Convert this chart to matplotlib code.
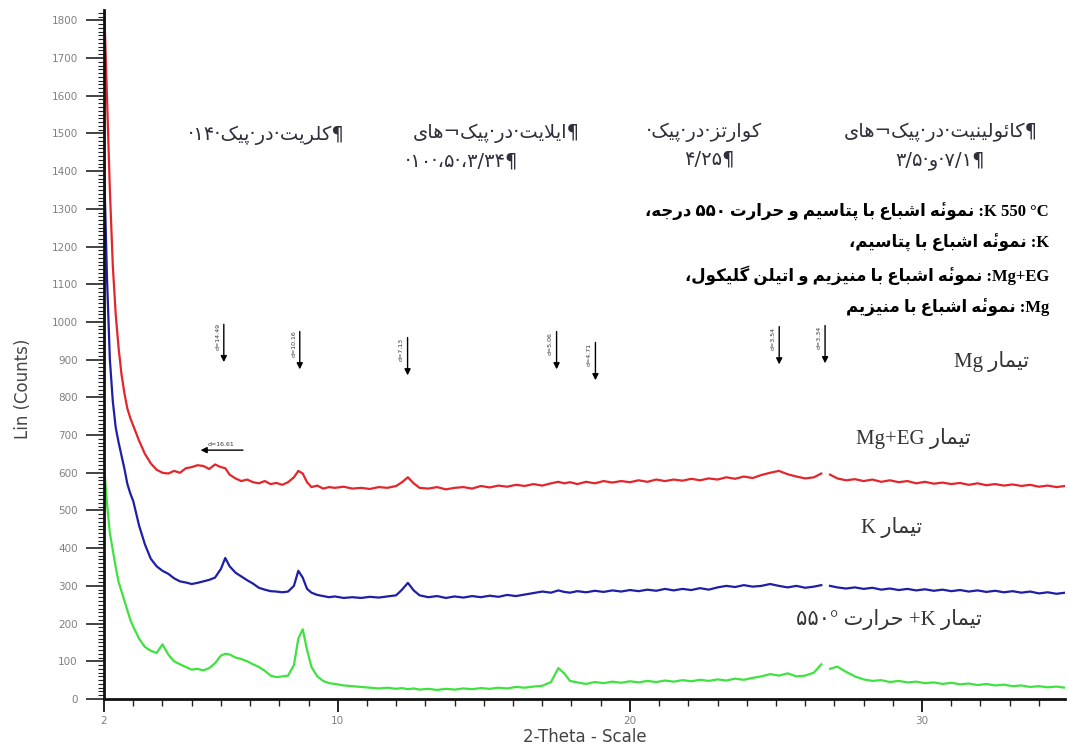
import numpy as np
import matplotlib
matplotlib.use('Agg')
import matplotlib.pyplot as plt
from matplotlib.ticker import MultipleLocator, FixedLocator

nan = np.nan

# 2-theta sampling positions (degrees)
two_theta = [2.0, 2.1, 2.2, 2.3, 2.4, 2.5, 2.6, 2.7, 2.8, 2.9,
             3.0, 3.2, 3.4, 3.6, 3.8, 4.0, 4.2, 4.4, 4.6, 4.8,
             5.0, 5.2, 5.4, 5.6, 5.8, 6.0, 6.15, 6.3, 6.5, 6.7,
             6.9, 7.1, 7.3, 7.5, 7.7, 7.9, 8.1, 8.3, 8.5, 8.65,
             8.8, 8.95, 9.1, 9.3, 9.5, 9.7, 9.9, 10.2, 10.5, 10.8,
             11.1, 11.4, 11.7, 12.0, 12.2, 12.4, 12.6, 12.8, 13.1, 13.4,
             13.7, 14.0, 14.3, 14.6, 14.9, 15.2, 15.5, 15.8, 16.1, 16.4,
             16.7, 17.0, 17.3, 17.55, 17.75, 17.95, 18.2, 18.5, 18.8, 19.1,
             19.4, 19.7, 20.0, 20.3, 20.6, 20.9, 21.2, 21.5, 21.8, 22.1,
             22.4, 22.7, 23.0, 23.3, 23.6, 23.9, 24.2, 24.5, 24.8, 25.1,
             25.4, 25.7, 26.0, 26.3, 26.55, 26.7, 26.85, 27.1, 27.4, 27.7,
             28.0, 28.3, 28.6, 28.9, 29.2, 29.5, 29.8, 30.1, 30.4, 30.7,
             31.0, 31.3, 31.6, 31.9, 32.2, 32.5, 32.8, 33.1, 33.4, 33.7,
             34.0, 34.3, 34.6, 34.9]

# counts, Mg + ethylene glycol (red)
mg_eg = [1850, 1600, 1350, 1150, 1020, 930, 860, 810, 770, 745,
         725, 685, 650, 625, 608, 600, 598, 605, 600, 612,
         615, 620, 618, 610, 622, 615, 612, 595, 585, 578,
         582, 575, 572, 578, 570, 573, 568, 575, 588, 605,
         598, 575, 562, 566, 558, 562, 560, 563, 558, 560,
         557, 562, 560, 565, 575, 588, 572, 560, 558, 562,
         556, 560, 562, 558, 565, 561, 566, 563, 568, 565,
         570, 566, 572, 576, 572, 575, 570, 576, 572, 578,
         574, 578, 575, 580, 576, 582, 578, 582, 579, 584,
         580, 585, 582, 588, 584, 590, 586, 594, 600, 605,
         596, 590, 585, 588, 598, nan, 595, 585, 580, 583,
         578, 582, 576, 580, 575, 578, 572, 576, 571, 574,
         570, 573, 568, 572, 567, 570, 566, 569, 565, 568,
         563, 566, 562, 565]

# counts, K saturated (blue)
k_sat = [1420, 1120, 900, 790, 720, 680, 645, 610, 570, 545,
         525, 460, 410, 372, 352, 340, 332, 320, 312, 309,
         305, 308, 312, 316, 322, 345, 374, 352, 335, 325,
         315, 306, 295, 290, 286, 285, 283, 285, 300, 340,
         322, 292, 282, 276, 273, 270, 272, 268, 270, 268,
         271, 269, 272, 275, 290, 308, 288, 275, 270, 273,
         268, 272, 269, 273, 270, 274, 271, 276, 273, 277,
         281, 285, 282, 288, 284, 282, 286, 283, 287, 284,
         288, 285, 289, 286, 290, 287, 292, 288, 292, 289,
         294, 290, 296, 300, 297, 302, 298, 300, 305, 300,
         296, 300, 295, 298, 302, nan, 300, 296, 293, 296,
         292, 295, 290, 293, 289, 292, 288, 291, 287, 290,
         286, 289, 285, 288, 284, 287, 283, 286, 282, 285,
         280, 283, 279, 282]

# counts, K saturated + 550 C (green)
k_550 = [620, 520, 440, 395, 350, 310, 285, 260, 235, 210,
         192, 160, 138, 128, 122, 145, 118, 100, 92, 85,
         78, 80, 76, 82, 95, 115, 120, 118, 110, 106,
         100, 92, 85, 75, 62, 58, 60, 62, 90, 160,
         185, 130, 85, 60, 48, 42, 40, 36, 34, 32,
         30, 28, 30, 27, 29, 26, 28, 25, 27, 24,
         27, 25, 28, 26, 29, 27, 30, 28, 32, 30,
         33, 35, 45, 82, 68, 48, 44, 40, 45, 42,
         46, 43, 47, 44, 48, 45, 49, 46, 50, 47,
         51, 48, 52, 49, 54, 51, 56, 60, 66, 62,
         68, 60, 62, 70, 92, nan, 80, 86, 72, 60,
         52, 48, 50, 45, 48, 44, 46, 42, 44, 40,
         43, 39, 41, 37, 40, 36, 38, 34, 36, 32,
         34, 31, 33, 30]

# peak markers (arrow tip position, label)
peak_pos = [6.10, 8.70, 12.39, 17.49, 18.82, 25.11, 26.68]
peak_tip = [886, 867, 851, 867, 838, 880, 883]
peak_labels = ['d=14.49', 'd=10.16', 'd=7.13', 'd=5.06', 'd=4.71', 'd=3.54', 'd=3.34']

y_ticks = list(range(0, 1801, 100))
x_ticks = [2, 10, 20, 30]

header_texts = ['¶کلریت·در·پیک·۱۴·',
                '¶ایلایت·در·پیک¬های', '¶۳/۳۴،·۵،·۱۰·',
                'کوارتز·در·پیک·', '¶۴/۲۵',
                '¶کائولینیت·در·پیک¬های', '¶۷/۱·و·۳/۵']
legend_texts = ['K 550 °C: نمونهٔ اشباع با پتاسیم و حرارت ۵۵۰ درجه،',
                'K: نمونهٔ اشباع با پتاسیم،',
                'Mg+EG: نمونهٔ اشباع با منیزیم و اتیلن گلیکول،',
                'Mg: نمونهٔ اشباع با منیزیم']
series_texts = ['تیمار Mg', 'تیمار Mg+EG', 'تیمار K', 'تیمار K+ حرارت ۵۵۰°']

# --- minimal Persian shaping + right-to-left ordering (matplotlib has none) ---
FORMS = {  # isolated, final, initial, medial
    'ا': ('\uFE8D', '\uFE8E', None, None),
    'ب': ('\uFE8F', '\uFE90', '\uFE91', '\uFE92'),
    'پ': ('\uFB56', '\uFB57', '\uFB58', '\uFB59'),
    'ت': ('\uFE95', '\uFE96', '\uFE97', '\uFE98'),
    'ج': ('\uFE9D', '\uFE9E', '\uFE9F', '\uFEA0'),
    'ح': ('\uFEA1', '\uFEA2', '\uFEA3', '\uFEA4'),
    'د': ('\uFEA9', '\uFEAA', None, None),
    'ر': ('\uFEAD', '\uFEAE', None, None),
    'ز': ('\uFEAF', '\uFEB0', None, None),
    'س': ('\uFEB1', '\uFEB2', '\uFEB3', '\uFEB4'),
    'ش': ('\uFEB5', '\uFEB6', '\uFEB7', '\uFEB8'),
    'ع': ('\uFEC9', '\uFECA', '\uFECB', '\uFECC'),
    'ل': ('\uFEDD', '\uFEDE', '\uFEDF', '\uFEE0'),
    'م': ('\uFEE1', '\uFEE2', '\uFEE3', '\uFEE4'),
    'ن': ('\uFEE5', '\uFEE6', '\uFEE7', '\uFEE8'),
    'ه': ('\uFEE9', '\uFEEA', '\uFEEB', '\uFEEC'),
    'و': ('\uFEED', '\uFEEE', None, None),
    'ی': ('\uFBFC', '\uFBFD', '\uFBFE', '\uFBFF'),
    'ک': ('\uFB8E', '\uFB8F', '\uFB90', '\uFB91'),
    'گ': ('\uFB92', '\uFB93', '\uFB94', '\uFB95'),
    'ئ': ('\uFE89', '\uFE8A', '\uFE8B', '\uFE8C'),
    'لا': ('\uFEFB', '\uFEFC', None, None),
}
MARKS = '\u0654'


def shape(text):
    toks = []
    i = 0
    while i < len(text):
        if text[i] == 'ل' and text[i + 1:i + 2] == 'ا':
            toks.append('لا')
            i += 2
        else:
            toks.append(text[i])
            i += 1
    out = []  # clusters: base glyph (+ combining mark kept after it)
    for i, t in enumerate(toks):
        if t in MARKS and out:
            out[-1] += t
            continue
        f = FORMS.get(t)
        if f is None:
            out.append(t)
            continue
        prv = i > 0 and toks[i - 1] in FORMS and FORMS[toks[i - 1]][2] is not None
        nxt = i + 1 < len(toks) and toks[i + 1] in FORMS and f[2] is not None
        out.append(f[3] if prv and nxt else f[1] if prv else f[2] if nxt else f[0])
    return out


def direction(ch):
    if '\u06F0' <= ch <= '\u06F9' or (ch.isascii() and ch.isalnum()) or ch == '°':
        return 'L'
    if '\u0600' <= ch <= '\u06FF' or '\uFB50' <= ch <= '\uFEFC':
        return 'R'
    return None


def fa(text):
    s = shape(text)
    strong = [direction(c[0]) for c in s]
    d = []
    for i in range(len(s)):
        if strong[i]:
            d.append(strong[i])
            continue
        before = next((strong[j] for j in range(i - 1, -1, -1) if strong[j]), 'R')
        after = next((strong[j] for j in range(i + 1, len(s)) if strong[j]), 'R')
        d.append('L' if before == after == 'L' else 'R')
    runs = []
    for c, k in zip(s, d):
        if runs and runs[-1][0] == k:
            runs[-1][1].append(c)
        else:
            runs.append([k, [c]])
    return ''.join(''.join(r[1][::-1] if r[0] == 'R' else r[1]) for r in runs[::-1])


fig = plt.figure(figsize=(10.68, 7.48), dpi=100)
ax = fig.add_axes([0.0974, 0.0655, 0.900, 0.921])

x = np.array(two_theta)
ax.plot(x, mg_eg, color='#e3262b', lw=1.6)
ax.plot(x, k_sat, color='#1e1ea6', lw=1.6)
ax.plot(x, k_550, color='#3fe23f', lw=1.6)

ax.set_xlim(2, 34.9)
ax.set_ylim(0, 1827)

for s in ['top', 'right']:
    ax.spines[s].set_visible(False)
for s in ['left', 'bottom']:
    ax.spines[s].set_linewidth(2)
    ax.spines[s].set_color('#111111')

ax.yaxis.set_major_locator(FixedLocator(y_ticks))
ax.yaxis.set_minor_locator(MultipleLocator(10))
ax.xaxis.set_major_locator(FixedLocator(x_ticks))
ax.xaxis.set_minor_locator(MultipleLocator(1))
ax.tick_params(axis='y', which='major', length=13, width=1.2, pad=6,
               labelsize=7.5, labelcolor='#808080', color='#222222')
ax.tick_params(axis='y', which='minor', length=4, width=0.8, color='#222222')
ax.tick_params(axis='x', which='major', length=9, width=1.4, pad=3,
               labelsize=7.5, labelcolor='#808080', color='#222222')
ax.tick_params(axis='x', which='minor', length=5, width=1.0, color='#222222')

ax.set_xlabel('2-Theta - Scale', fontsize=12, color='#444444', labelpad=2)
ax.set_ylabel('Lin (Counts)', fontsize=12, color='#444444')
ax.yaxis.set_label_coords(-0.075, 0.45)

# peak arrows
for p, tip, lab in zip(peak_pos, peak_tip, peak_labels):
    ax.annotate('', xy=(p, tip), xytext=(p, tip + 115),
                arrowprops=dict(arrowstyle='-|>', color='black', lw=1.0,
                                mutation_scale=9))
    ax.text(p - 0.12, tip + 75, lab, rotation=90, fontsize=4.5,
            ha='right', va='center', color='#333333')
ax.annotate('', xy=(5.21, 660), xytext=(6.85, 660),
            arrowprops=dict(arrowstyle='-|>', color='black', lw=1.0,
                            mutation_scale=9))
ax.text(6.0, 668, 'd=16.61', fontsize=4.5, ha='center', va='bottom', color='#333333')

# mineral peak notes (top)
hfont = dict(family=['DejaVu Sans'], fontsize=14, color='#30303c')
head_pos = [(7.57, 1496), (15.44, 1501), (14.24, 1428), (22.55, 1504),
            (22.72, 1433), (30.65, 1504), (30.62, 1428)]
for (hx, hy), t in zip(head_pos, header_texts):
    ax.text(hx, hy, fa(t), ha='center', va='center', **hfont)

# sample key
for i, t in enumerate(legend_texts):
    ax.text(34.34, [1292, 1210, 1125, 1037][i], fa(t), ha='right', va='center',
            family=['Liberation Serif', 'DejaVu Sans'], fontsize=12,
            fontweight='bold', color='black')

# curve labels
for (sx, sy), t in zip([(32.39, 894), (29.69, 692), (28.97, 456), (28.87, 210)],
                       series_texts):
    ax.text(sx, sy, fa(t), ha='center', va='center',
            family=['Liberation Serif', 'DejaVu Sans'], fontsize=15,
            color='#333333')

fig.savefig('out.png', dpi=100)
